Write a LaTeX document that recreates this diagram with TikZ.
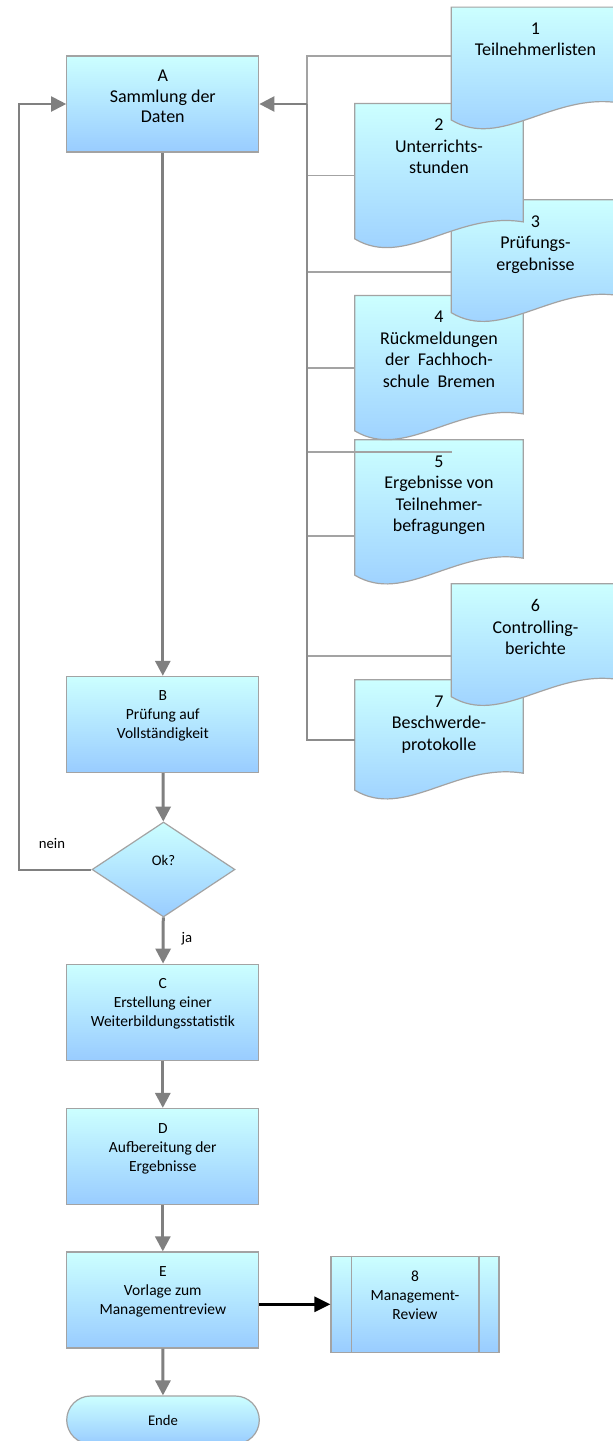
\documentclass[tikz,border=0pt]{standalone}
\usepackage{fontspec}
\setmainfont{Carlito}
\usetikzlibrary{arrows.meta, positioning, calc, shapes.geometric}

\definecolor{boxtop}{HTML}{CCFFFF}
\definecolor{boxbottom}{HTML}{99CCFF}
\definecolor{edgegray}{HTML}{A3A3A3}
\definecolor{flowgray}{HTML}{808080}
\definecolor{busgray}{HTML}{8C8C8C}

\tikzset{
	procbox/.style={rectangle, draw=edgegray, line width=1.2pt, top color=boxtop, bottom color=boxbottom, minimum width=192pt, minimum height=96pt, inner sep=0pt},
	docarea/.style={rectangle, minimum width=168pt, inner sep=0pt},
	boxtext/.style={anchor=north, align=center, inner sep=0pt, font=\fontsize{15.5}{19}\selectfont},
	doctext/.style={anchor=north, align=center, inner sep=0pt, font=\fontsize{18}{21.5}\selectfont},
	smalltext/.style={inner sep=0pt, font=\fontsize{14.7}{17}\selectfont},
	flow/.style={draw=flowgray, line width=3pt, -{Triangle[length=15pt, width=15pt]}},
	backflow/.style={draw=flowgray, line width=2pt, -{Triangle[length=15pt, width=15pt]}},
	bus/.style={draw=busgray, line width=2pt},
	branch/.style={draw=edgegray, line width=1.3pt}
}

% document symbol with wavy bottom
\newcommand{\docshape}[1]{%
	\shade[top color=boxtop, bottom color=boxbottom, draw=edgegray, line width=1.2pt]
		(#1.north west) -- (#1.north east) -- ($(#1.south east)+(0,-17)$)
		.. controls ($(#1.south east)+(-67,-28)$) and ($(#1.south west)+(50,30)$) .. (#1.south west) -- cycle;
}

\begin{document}
\begin{tikzpicture}[x=1pt, y=-1pt]
	\useasboundingbox (0,0) rectangle (613,1441);
	\fill[white] (0,0) rectangle (613,1441);

	% main flow
	\node[procbox] (A) at (162.8,104) {};
	\node[doctext, font=\fontsize{18}{20.5}\selectfont] (At) at ([yshift=-14.5pt]A.north) {A\\Sammlung der\\Daten};
	\node[procbox] (B) at (162.8,724.4) {};
	\node[boxtext] (Bt) at ([yshift=-15pt]B.north) {B\\Prüfung auf\\Vollständigkeit};
	\node[diamond, draw=edgegray, line width=1.2pt, top color=boxtop, bottom color=boxbottom, minimum width=143pt, minimum height=95pt, aspect=1.5, inner sep=0pt] (ok) at (163.5,869.5) {};
	\node[smalltext] (okt) at ([yshift=9pt]ok.center) {Ok?};
	\node[procbox] (C) at (162.8,1012.2) {};
	\node[boxtext] (Ct) at ([yshift=-15pt]C.north) {C\\Erstellung einer\\Weiterbildungsstatistik};
	\node[procbox] (D) at (162.8,1156.5) {};
	\node[boxtext] (Dt) at ([yshift=-15pt]D.north) {D\\Aufbereitung der\\Ergebnisse};
	\node[procbox] (E) at (162.8,1300) {};
	\node[boxtext] (Et) at ([yshift=-15pt]E.north) {E\\Vorlage zum\\Managementreview};
	\node[rectangle, rounded corners=24pt, draw=edgegray, line width=1.2pt, top color=boxtop, bottom color=boxbottom, minimum width=192.6pt, minimum height=48pt, font=\fontsize{14.7}{17}\selectfont] (ende) at (163,1420) {Ende};

	% predefined process
	\node[procbox, minimum width=168pt] (mr) at (415,1304.3) {};
	\draw[edgegray, line width=1.2pt] ([xshift=20.7pt]mr.north west) -- ([xshift=20.7pt]mr.south west);
	\draw[edgegray, line width=1.2pt] ([xshift=-20.7pt]mr.north east) -- ([xshift=-20.7pt]mr.south east);
	\node[boxtext] (mrt) at ([yshift=-15pt]mr.north) {8\\Management-\\Review};

	% documents
	\node[docarea, minimum height=112.5pt] (d1) at (535.5,63.55) {};
	\node[docarea, minimum height=135pt] (d2) at (439,171.2) {};
	\node[docarea, minimum height=112.5pt] (d3) at (535.5,256.25) {};
	\node[docarea, minimum height=135pt] (d4) at (439,363.2) {};
	\node[docarea, minimum height=135pt] (d5) at (439,507.5) {};
	\node[docarea, minimum height=112.5pt] (d6) at (535.5,640.25) {};
	\node[docarea, minimum height=110pt] (d7) at (439,735) {};
	\docshape{d7}
	\docshape{d6}
	\docshape{d5}
	\docshape{d4}
	\docshape{d3}
	\docshape{d2}
	\docshape{d1}
	\node[doctext] (d1t) at ([yshift=-15.5pt]d1.north) {1\\Teilnehmerlisten};
	\node[doctext] (d2t) at ([yshift=-15.5pt]d2.north) {2\\Unterrichts-\\stunden};
	\node[doctext] (d3t) at ([yshift=-15.5pt]d3.north) {3\\Prüfungs-\\ergebnisse};
	\node[doctext] (d4t) at ([yshift=-15.5pt]d4.north) {4\\Rückmeldungen\\der\hspace{0.45em}Fachhoch-\\schule\hspace{0.45em}Bremen};
	\node[doctext] (d5t) at ([yshift=-15.5pt]d5.north) {5\\Ergebnisse von\\Teilnehmer-\\befragungen};
	\node[doctext] (d6t) at ([yshift=-15.5pt]d6.north) {6\\Controlling-\\berichte};
	\node[doctext] (d7t) at ([yshift=-15.5pt]d7.north) {7\\Beschwerde-\\protokolle};

	% collecting line to A
	\coordinate (bus) at (307,104);
	\coordinate (bustop) at (307,56);
	\coordinate (busend) at (307,740);
	\draw[branch] (bus) -- (bustop) -- (bustop -| d1.west);
	\foreach \d/\y in {2/175.7, 3/272, 4/368, 5/536, 6/656}
		\draw[branch] (307,\y) coordinate (b\d) -- (b\d -| d\d.west);
	\draw[branch] (307,452) coordinate (b5a) -- (451.7,452);
	\draw[bus] (bus) -- (busend) -- (busend -| d7.west);
	\draw[backflow, line width=2.5pt] (bus) -- (A.east);

	% arrows
	\draw[flow] (A) -- (B);
	\draw[flow] (B) -- (ok);
	\draw[flow] (ok) -- (C);
	\draw[flow] (C) -- (D);
	\draw[flow] (D) -- (E);
	\draw[flow] (E) -- (ende);
	\coordinate (back) at (19,104);
	\draw[backflow] (ok.west) -| (back) -- (A.west);
	\draw[black, line width=2.7pt, -{Triangle[length=16pt, width=15pt]}] (E.east |- mr.west) -- (mr.west);
	\node[smalltext] (nein) at (52,843) {nein};
	\node[smalltext] (ja) at (187,939) {ja};
\end{tikzpicture}
\end{document}
